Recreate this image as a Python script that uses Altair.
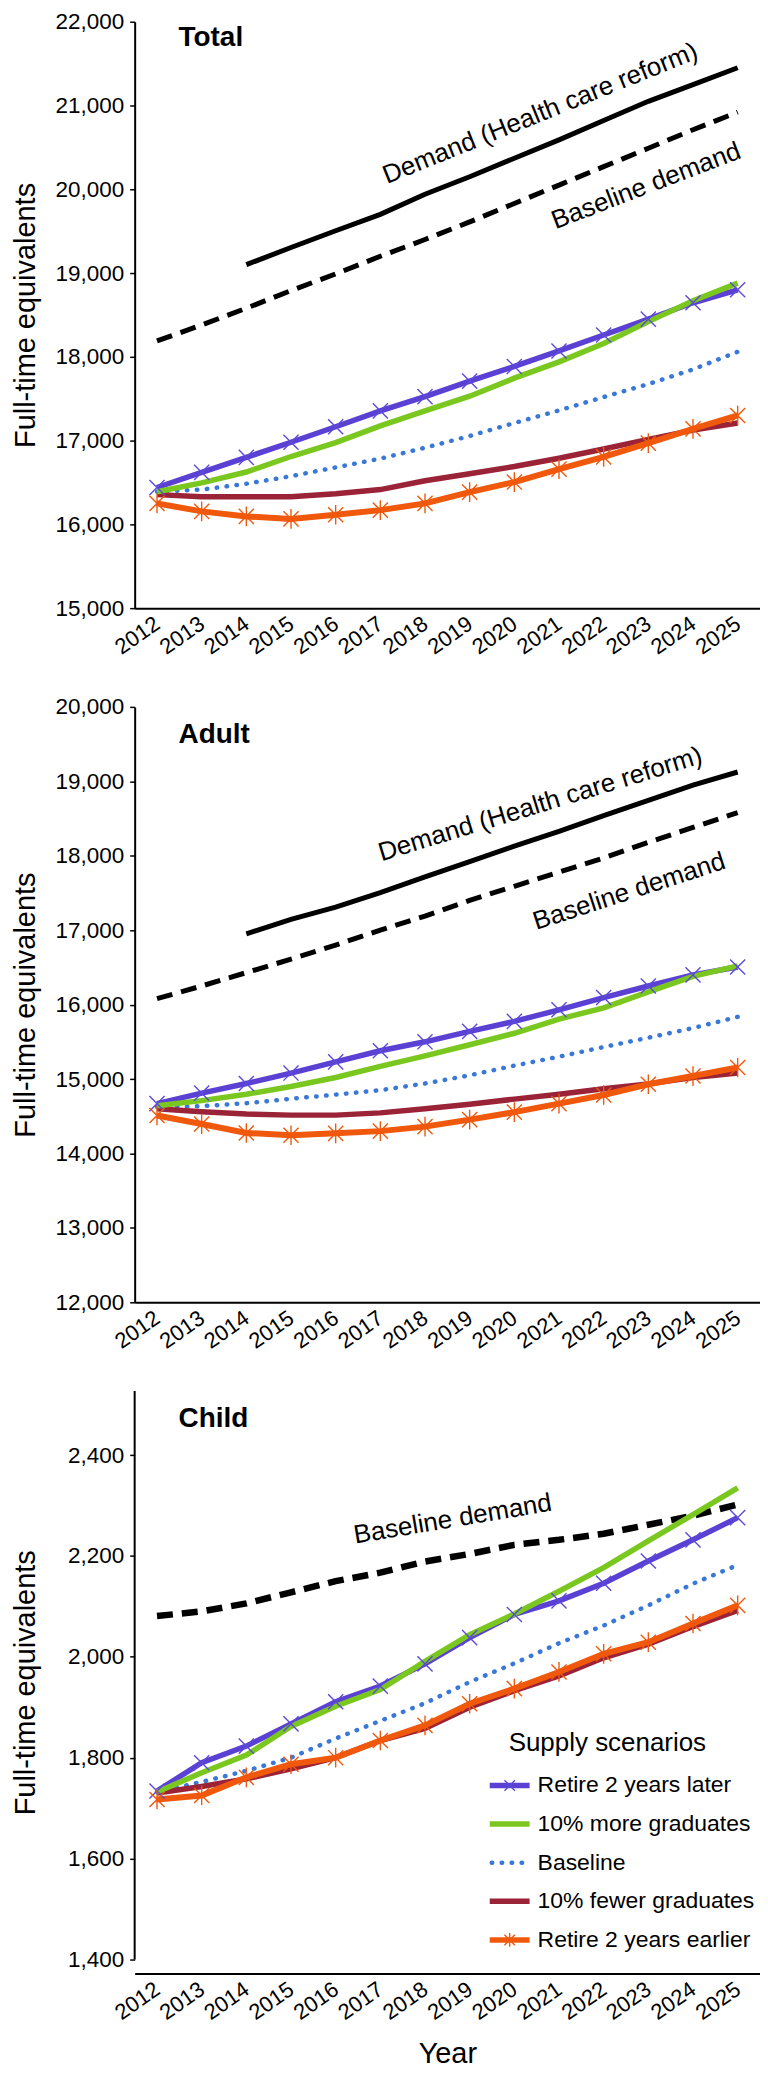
import altair as alt
import pandas as pd

YEARS = list(range(2012, 2026))
HCR_YEARS = list(range(2014, 2026))

SCENARIOS = ["Retire 2 years later", "10% more graduates", "Baseline",
             "10% fewer graduates", "Retire 2 years earlier"]
SCENARIO_COLORS = ["#5b40d4", "#7ac81f", "#3a78d8", "#9b2337", "#f0580c"]

# ---------------- Total ----------------
TOTAL_DEMAND_HCR = [19100, 19305, 19505, 19700, 19940, 20150, 20370, 20590, 20820, 21050, 21250, 21450]
TOTAL_BASELINE_DEMAND = [18190, 18380, 18580, 18790, 18990, 19200, 19400, 19610, 19830, 20050, 20270, 20490, 20710, 20920]
TOTAL_RETIRE_LATER = [16440, 16620, 16800, 16980, 17165, 17355, 17525, 17710, 17885, 18070, 18260, 18450, 18645, 18800]
TOTAL_MORE_GRADS = [16390, 16495, 16625, 16810, 16975, 17175, 17355, 17530, 17745, 17940, 18160, 18420, 18670, 18880]
TOTAL_BASELINE = [16390, 16415, 16485, 16575, 16680, 16785, 16915, 17055, 17210, 17360, 17520, 17675, 17850, 18060]
TOTAL_FEWER_GRADS = [16355, 16330, 16330, 16330, 16365, 16415, 16520, 16605, 16690, 16790, 16900, 17015, 17125, 17210]
TOTAL_RETIRE_EARLIER = [16250, 16155, 16095, 16065, 16115, 16170, 16250, 16385, 16505, 16660, 16805, 16970, 17140, 17300]
TOTAL_TICKS = [15000, 16000, 17000, 18000, 19000, 20000, 21000, 22000]

# ---------------- Adult ----------------
ADULT_DEMAND_HCR = [16950, 17145, 17310, 17505, 17715, 17922, 18128, 18327, 18540, 18745, 18950, 19125]
ADULT_BASELINE_DEMAND = [16080, 16250, 16430, 16610, 16800, 17000, 17190, 17400, 17590, 17780, 17970, 18180, 18380, 18580]
ADULT_RETIRE_LATER = [14670, 14810, 14940, 15080, 15230, 15380, 15500, 15640, 15775, 15930, 16095, 16250, 16400, 16505]
ADULT_MORE_GRADS = [14640, 14710, 14795, 14900, 15020, 15170, 15310, 15460, 15615, 15805, 15955, 16170, 16380, 16520]
ADULT_BASELINE = [14625, 14635, 14675, 14735, 14790, 14850, 14940, 15050, 15180, 15300, 15430, 15555, 15685, 15835]
ADULT_FEWER_GRADS = [14600, 14560, 14530, 14515, 14515, 14545, 14600, 14660, 14730, 14795, 14870, 14935, 15020, 15080]
ADULT_RETIRE_EARLIER = [14510, 14395, 14275, 14245, 14270, 14300, 14360, 14455, 14555, 14670, 14785, 14930, 15040, 15155]
ADULT_TICKS = [12000, 13000, 14000, 15000, 16000, 17000, 18000, 19000, 20000]

# ---------------- Child ----------------
CHILD_BASELINE_DEMAND = [2081, 2090, 2106, 2128, 2150, 2167, 2189, 2204, 2222, 2232, 2244, 2262, 2280, 2302]
CHILD_RETIRE_LATER = [1734, 1790, 1823, 1867, 1911, 1942, 1986, 2038, 2084, 2111, 2146, 2190, 2232, 2276]
CHILD_MORE_GRADS = [1732, 1770, 1805, 1862, 1902, 1935, 1991, 2044, 2085, 2130, 2177, 2230, 2282, 2335]
CHILD_BASELINE = [1732, 1752, 1774, 1800, 1838, 1873, 1908, 1950, 1987, 2027, 2062, 2102, 2145, 2182]
CHILD_FEWER_GRADS = [1730, 1743, 1758, 1778, 1800, 1834, 1858, 1900, 1933, 1962, 1998, 2025, 2060, 2092]
CHILD_RETIRE_EARLIER = [1717, 1725, 1761, 1787, 1800, 1834, 1864, 1907, 1937, 1970, 2006, 2029, 2066, 2102]
CHILD_TICKS = [1400, 1600, 1800, 2000, 2200, 2400]

FONT = "Liberation Sans"
X_PATH = "M-1,-1L1,1M-1,1L1,-1"
STAR_PATH = "M-1,-1L1,1M-1,1L1,-1M0,-1.3L0,1.3"


def build_df(series):
    rows = []
    for name, (yrs, vals) in series.items():
        for y, v in zip(yrs, vals):
            rows.append({"series": name, "year": y, "value": v})
    return pd.DataFrame(rows)


def make_legend():
    ldf = pd.DataFrame({"series": SCENARIOS})
    LY = alt.Y("series:N", scale=alt.Scale(type="point", padding=0, domain=SCENARIOS,
                                            range=[395.5, 550.3]), axis=None)
    col = alt.Color("series:N", scale=alt.Scale(domain=SCENARIOS, range=SCENARIO_COLORS), legend=None)
    lb = alt.Chart(ldf)
    solid = lb.transform_filter(alt.datum.series != "Baseline").mark_rule(strokeWidth=5.5).encode(
        x=alt.value(356), x2=alt.value(396), y=LY, color=col)
    dotted = lb.transform_filter(alt.datum.series == "Baseline").mark_rule(
        strokeWidth=4.5, strokeDash=[0.5, 9.5], strokeCap="round").encode(
        x=alt.value(358), x2=alt.value(396), y=LY, color=col)
    m1 = lb.transform_filter(alt.datum.series == "Retire 2 years later").mark_point(
        shape=X_PATH, size=110, strokeWidth=1.4, color="#5c4ad8", filled=False, opacity=1).encode(
        x=alt.value(376), y=LY)
    m2 = lb.transform_filter(alt.datum.series == "Retire 2 years earlier").mark_point(
        shape=STAR_PATH, size=110, strokeWidth=1.4, color="#f0580c", filled=False, opacity=1).encode(
        x=alt.value(376), y=LY)
    labels = lb.mark_text(align="left", baseline="middle", fontSize=23, color="black", font=FONT).encode(
        x=alt.value(404), y=LY, text="series:N")
    title = alt.Chart(pd.DataFrame({"label": ["Supply scenarios"]})).mark_text(
        align="left", baseline="middle", fontSize=26, color="black", font=FONT).encode(
        x=alt.value(375), y=alt.value(352.5), text="label:N")
    return alt.layer(solid, dotted, m1, m2, labels, title)


def make_panel(series, ydom, yticks, height, title, annotations, last=False, dash_width=5):
    df = build_df(series)
    child = last
    x_kw = dict(
        scale=alt.Scale(domain=[2011.5, 2025.5], nice=False, zero=False),
        axis=alt.Axis(values=YEARS, format="d", labelAngle=-35, labelAlign="right",
                      labelBaseline="middle", labelPadding=13, ticks=False, tickSize=0,
                      labelOverlap=False, labelFlush=False, domainWidth=2, domainColor="black",
                      labelFontSize=22, labelColor="black", titleFontSize=29,
                      titleFontWeight="normal", titleColor="black", titlePadding=16),
        title="Year" if last else "",
    )
    X = alt.X("year:Q", **x_kw)
    Y = alt.Y("value:Q",
              scale=alt.Scale(domain=ydom, nice=False, zero=False),
              axis=alt.Axis(values=yticks, format=",d", tickSize=5, tickWidth=1.5,
                            tickColor="black", domain=not child, domainWidth=2,
                            domainColor="black", labelPadding=6, labelFontSize=22.5,
                            labelColor="black", titleFontSize=29, titleFontWeight="normal",
                            titleColor="black", titlePadding=13, minExtent=81, maxExtent=81),
              title="Full-time equivalents")

    base = alt.Chart(df)

    def line(name, **kw):
        return base.transform_filter(alt.datum.series == name).mark_line(**kw).encode(x=X, y=Y)

    def markers(name, shape, color):
        return base.transform_filter(alt.datum.series == name).mark_point(
            shape=shape, size=230, strokeWidth=1.4, color=color, filled=False, opacity=1
        ).encode(x=X, y=Y)

    layers = []
    if "Demand (Health care reform)" in series:
        layers.append(line("Demand (Health care reform)", color="black", strokeWidth=5))
    layers.append(line("Baseline demand", color="black", strokeWidth=dash_width, strokeDash=[16, 9]))
    layers.append(line("Baseline", color=SCENARIO_COLORS[2], strokeWidth=4.5,
                       strokeDash=[0.5, 9.5], strokeCap="round"))
    layers.append(line("10% fewer graduates", color=SCENARIO_COLORS[3], strokeWidth=5.5))
    layers.append(line("Retire 2 years earlier", color=SCENARIO_COLORS[4], strokeWidth=6))
    layers.append(line("Retire 2 years later", color=SCENARIO_COLORS[0], strokeWidth=5.5))
    layers.append(line("10% more graduates", color=SCENARIO_COLORS[1], strokeWidth=5.5))
    layers.append(markers("Retire 2 years later", X_PATH, "#5c4ad8"))
    layers.append(markers("Retire 2 years earlier", STAR_PATH, "#f0580c"))

    for text, xv, yv, ang in annotations:
        layers.append(
            alt.Chart(pd.DataFrame({"label": [text]})).mark_text(
                angle=ang, fontSize=26, align="center", baseline="middle", color="black", font=FONT
            ).encode(text="label:N", x=alt.datum(xv), y=alt.datum(yv))
        )

    layers.append(
        alt.Chart(pd.DataFrame({"label": [title]})).mark_text(
            fontSize=28, fontWeight="bold", align="left", baseline="middle", color="black", font=FONT
        ).encode(text="label:N", x=alt.value(44), y=alt.value(28 if title != "Total" else 16))
    )

    if child:
        layers.append(
            alt.Chart(pd.DataFrame({"a": [0]})).mark_rule(color="black", strokeWidth=2).encode(
                x=alt.value(0), y=alt.datum(yticks[0]), y2=alt.datum(ydom[1])
            )
        )

    main = alt.layer(*layers)
    if child:
        return alt.layer(main, make_legend()).resolve_scale(y="independent").properties(
            width=627, height=height)
    return main.properties(width=627, height=height)


total = make_panel(
    {
        "Demand (Health care reform)": (HCR_YEARS, TOTAL_DEMAND_HCR),
        "Baseline demand": (YEARS, TOTAL_BASELINE_DEMAND),
        "Retire 2 years later": (YEARS, TOTAL_RETIRE_LATER),
        "10% more graduates": (YEARS, TOTAL_MORE_GRADS),
        "Baseline": (YEARS, TOTAL_BASELINE),
        "10% fewer graduates": (YEARS, TOTAL_FEWER_GRADS),
        "Retire 2 years earlier": (YEARS, TOTAL_RETIRE_EARLIER),
    },
    [15000, 22000], TOTAL_TICKS, 588, "Total",
    [("Demand (Health care reform)", 2020.58, 20905, 338),
     ("Baseline demand", 2022.95, 20040, 339)],
)

adult = make_panel(
    {
        "Demand (Health care reform)": (HCR_YEARS, ADULT_DEMAND_HCR),
        "Baseline demand": (YEARS, ADULT_BASELINE_DEMAND),
        "Retire 2 years later": (YEARS, ADULT_RETIRE_LATER),
        "10% more graduates": (YEARS, ADULT_MORE_GRADS),
        "Baseline": (YEARS, ADULT_BASELINE),
        "10% fewer graduates": (YEARS, ADULT_FEWER_GRADS),
        "Retire 2 years earlier": (YEARS, ADULT_RETIRE_EARLIER),
    },
    [12000, 20000], ADULT_TICKS, 597, "Adult",
    [("Demand (Health care reform)", 2020.58, 18690, 343),
     ("Baseline demand", 2022.57, 17520, 342)],
)

child = make_panel(
    {
        "Baseline demand": (YEARS, CHILD_BASELINE_DEMAND),
        "Retire 2 years later": (YEARS, CHILD_RETIRE_LATER),
        "10% more graduates": (YEARS, CHILD_MORE_GRADS),
        "Baseline": (YEARS, CHILD_BASELINE),
        "10% fewer graduates": (YEARS, CHILD_FEWER_GRADS),
        "Retire 2 years earlier": (YEARS, CHILD_RETIRE_EARLIER),
    },
    [1372, 2527], CHILD_TICKS, 584, "Child",
    [("Baseline demand", 2018.62, 2273, 350.5)],
    last=True, dash_width=6.5,
)

chart = alt.vconcat(total, adult, child, spacing=37).properties(
    padding={"left": 4, "top": 0, "right": 0, "bottom": 0}
).configure(font=FONT).configure_view(stroke=None).configure_axis(grid=False)

chart.save("out.html", embed_options={"renderer": "svg", "actions": False})
